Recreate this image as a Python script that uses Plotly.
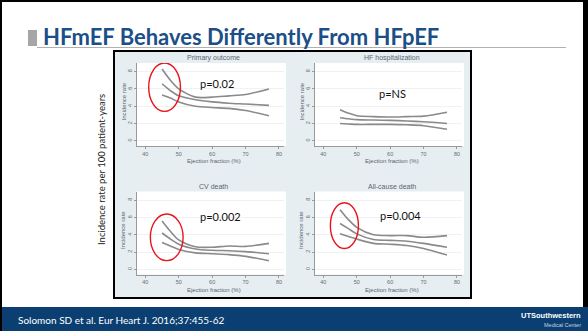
import plotly.graph_objects as go

# ---- data ----
ef = [45, 47.5, 50, 55, 60, 65, 70, 77]

primary_upper = [8.3, 7.0, 6.0, 5.05, 5.05, 5.2, 5.35, 6.0]
primary_mid = [6.6, 5.8, 5.2, 4.75, 4.5, 4.35, 4.25, 4.1]
primary_lower = [5.3, 4.95, 4.5, 4.0, 3.85, 3.75, 3.5, 2.9]

hfh_upper = [3.6, 3.2, 2.9, 2.8, 2.75, 2.8, 2.85, 3.3]
hfh_mid = [2.67, 2.55, 2.45, 2.4, 2.36, 2.3, 2.2, 2.0]
hfh_lower = [2.0, 1.95, 1.9, 1.9, 1.9, 1.85, 1.75, 1.33]

cv_upper = [5.6, 4.4, 3.4, 2.6, 2.55, 2.7, 2.65, 3.0]
cv_mid = [4.2, 3.5, 2.9, 2.35, 2.2, 2.15, 2.05, 1.8]
cv_lower = [3.1, 2.7, 2.3, 1.9, 1.8, 1.7, 1.5, 1.0]

all_upper = [6.9, 5.75, 4.85, 4.0, 3.9, 3.9, 3.7, 3.9]
all_mid = [5.3, 4.7, 4.1, 3.45, 3.35, 3.25, 3.0, 2.55]
all_lower = [4.1, 3.8, 3.5, 3.0, 2.9, 2.75, 2.4, 1.65]

panel_titles = ["Primary outcome", "HF hospitalization", "CV death", "All-cause death"]
p_values = ["p=0.02", "p=NS", "p=0.002", "p=0.004"]
x_ticks = [40, 50, 60, 70, 80]
y_ticks = [0, 2, 4, 6, 8]

W, H = 588, 331
def px(x): return x / W
def py(y): return 1 - y / H

fig = go.Figure()

series = [
    (primary_upper, primary_mid, primary_lower),
    (hfh_upper, hfh_mid, hfh_lower),
    (cv_upper, cv_mid, cv_lower),
    (all_upper, all_mid, all_lower),
]
# panel geometry in page pixels: (x0, x1, ytop, ybottom)
geo = [(137, 284, 63, 146), (315, 462, 63, 146),
       (137, 284, 191.5, 274.5), (315, 462, 191.5, 274.5)]

def note(x, y, text, size, color, family, **kw):
    fig.add_annotation(x=px(x), y=py(y), xref="paper", yref="paper", text=text, showarrow=False,
                       xanchor=kw.pop("xanchor", "center"), yanchor="middle",
                       font=dict(size=size, color=color, family=family), **kw)

curve_color = "#8a8a8a"
for i, (up, mid, lo) in enumerate(series):
    ax = "" if i == 0 else str(i + 1)
    for ys in (up, mid, lo):
        fig.add_trace(go.Scatter(x=ef, y=ys, mode="lines",
                                 line=dict(color=curve_color, width=1.6, shape="spline", smoothing=0.8),
                                 xaxis="x" + ax, yaxis="y" + ax, showlegend=False, hoverinfo="skip"))
    x0, x1, yt, yb = geo[i]
    common = dict(showline=True, linecolor="#9a9a9a", linewidth=1, ticks="outside", ticklen=2,
                  tickcolor="#9a9a9a", tickfont=dict(size=5.5, color="#6a6a6a", family="Liberation Sans"),
                  zeroline=False)
    fig.update_layout(**{
        "xaxis" + ax: dict(domain=[px(x0), px(x1)], range=[37.5, 81.5], tickvals=x_ticks,
                           showgrid=False, anchor="y" + ax, **common),
        "yaxis" + ax: dict(domain=[py(yb), py(yt)], range=[-0.6, 9.0], tickvals=y_ticks,
                           tickangle=-90, showgrid=True, gridcolor="#eef2f3", gridwidth=1,
                           anchor="x" + ax, **common),
    })
    note((x0 + x1) / 2 + 3, yt - 5.5, panel_titles[i], 7, "#5a6470", "Liberation Sans")
    note((x0 + x1) / 2 + 3, yb + 15, "Ejection fraction (%)", 6, "#5a6470", "Liberation Sans")
    note(x0 - 14, (yt + yb) / 2 - 3, "Incidence rate", 6, "#5a6470", "Liberation Sans", textangle=-90)

# p-values
p_pos = [(61.5, 6.6), (60.8, 5.5), (62.5, 6.1), (63.2, 6.2)]
for i, (xv, yv) in enumerate(p_pos):
    ax = "" if i == 0 else str(i + 1)
    fig.add_annotation(x=xv, y=yv, xref="x" + ax, yref="y" + ax, text=p_values[i],
                       showarrow=False, xanchor="center", yanchor="middle",
                       font=dict(size=11, color="#111111", family="Lato"))

# red ellipses
ellipses = [(0, 41.0, 50.5, 3.4, 9.0), (2, 41.5, 51.3, 1.0, 6.4), (3, 42.1, 50.5, 2.4, 7.7)]
for i, xa, xb, ya, yb2 in ellipses:
    ax = "" if i == 0 else str(i + 1)
    fig.add_shape(type="circle", xref="x" + ax, yref="y" + ax, x0=xa, x1=xb, y0=ya, y1=yb2,
                  line=dict(color="#e8141c", width=1.4), layer="above")

shapes_bg = [
    dict(type="rect", xref="paper", yref="paper", x0=px(114), x1=px(471), y0=py(298), y1=py(51),
         fillcolor="#e7eef2", line=dict(color="#000000", width=2), layer="below"),
]
for (x0, x1, yt, yb) in geo:
    shapes_bg.append(dict(type="rect", xref="paper", yref="paper", x0=px(x0), x1=px(x1 + 2),
                          y0=py(yb), y1=py(yt), fillcolor="#ffffff", line=dict(width=0), layer="below"))
shapes_bg += [
    dict(type="rect", xref="paper", yref="paper", x0=px(28), x1=px(37), y0=py(46), y1=py(30),
         fillcolor="#a6a6a6", line=dict(width=0), layer="below"),
    dict(type="line", xref="paper", yref="paper", x0=px(37), x1=px(566), y0=py(47.5), y1=py(47.5),
         line=dict(color="#b0b0b0", width=1), layer="below"),
    dict(type="rect", xref="paper", yref="paper", x0=0, x1=1, y0=0, y1=py(307),
         fillcolor="#0b3f72", line=dict(width=0), layer="below"),
    dict(type="rect", xref="paper", yref="paper", x0=0, x1=px(2), y0=0, y1=1,
         fillcolor="#000000", line=dict(width=0), layer="below"),
    dict(type="rect", xref="paper", yref="paper", x0=0, x1=1, y0=py(2), y1=1,
         fillcolor="#000000", line=dict(width=0), layer="below"),
    dict(type="rect", xref="paper", yref="paper", x0=px(583), x1=1, y0=py(307), y1=1,
         fillcolor="#000000", line=dict(width=0), layer="below"),
]
for s in shapes_bg:
    fig.add_shape(**s)

note(41, 37, "<b>HFmEF Behaves Differently From HFpEF</b>", 22, "#1b4f87", "Lato", xanchor="left")
note(101, 170, "Incidence rate per 100 patient-years", 9.5, "#222222", "Lato", textangle=-90)
note(16, 320, "Solomon SD et al. Eur Heart J. 2016;37:455-62", 10, "#ffffff", "Lato", xanchor="left")
note(583, 315.5, "<b>UTSouthwestern</b>", 7.5, "#ffffff", "Liberation Sans", xanchor="right")
note(583, 324.5, "Medical Center", 5.5, "#c8d4e2", "Liberation Sans", xanchor="right")

fig.update_layout(width=W, height=H, margin=dict(l=0, r=0, t=0, b=0),
                  paper_bgcolor="#ffffff", plot_bgcolor="rgba(0,0,0,0)", showlegend=False)

fig.write_html("out.html")
